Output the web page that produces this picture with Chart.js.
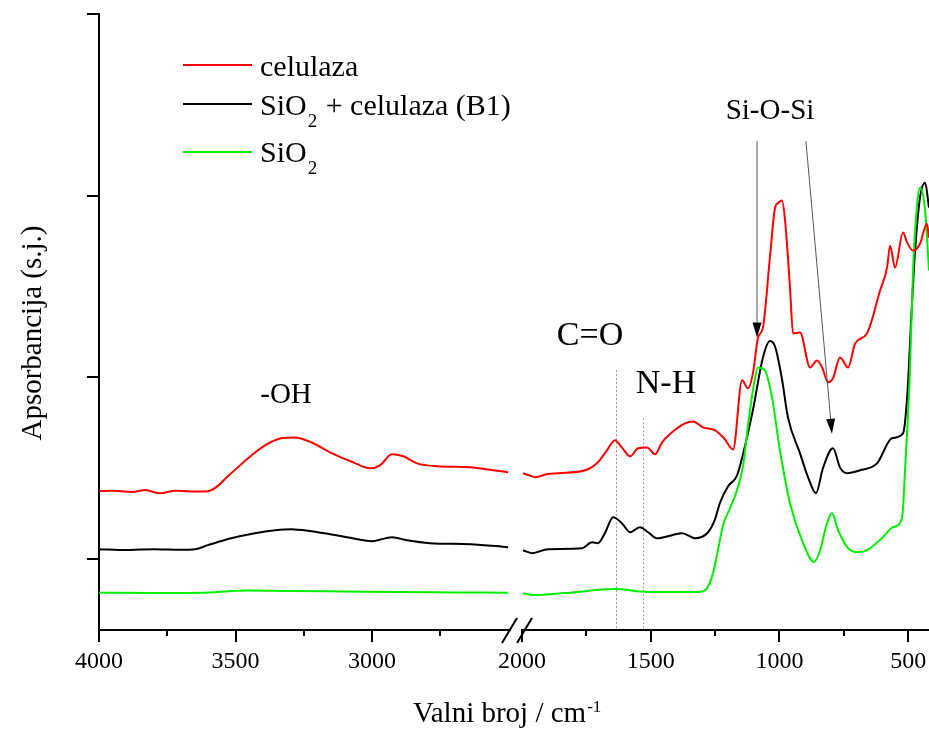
<!DOCTYPE html>
<html><head><meta charset="utf-8">
<script src="https://cdn.jsdelivr.net/npm/chart.js@4.4.0/dist/chart.umd.min.js"></script>
<style>html,body{margin:0;padding:0;background:#fff;overflow:hidden}canvas{display:block}</style>
</head><body>
<canvas id="c" width="929" height="729"></canvas>
<script>
// ---- axis ticks ----
const xTicksLeft = [4000, 3500, 3000];
const xTicksRight = [2000, 1500, 1000, 500];
const xMinorLeft = [3750, 3250, 2750];
const xMinorRight = [1750, 1250, 750];
const yTicks = [0, 1, 2, 3];

// ---- series (wavenumber / absorbance, arbitrary units) ----
const redWn  = [4000,3950,3880,3830,3777,3720,3660,3601,3516,3454,3392,3333,3282,3223,3154,3070,3007,2971,2927,2886,2835,2762,2641,2557,2502,
                1996,1970,1949,1900,1860,1755,1705,1670,1639,1612,1580,1549,1514,1483,1456,1417,1367,1336,1297,1250,1215,1180,1145,1122,1103,1083,1064,1037,1017,1005,990,978,959,947,920,881,854,834,811,792,765,733,706,660,609,582,570,551,520,504,481,454,427,419];
const redAbs = [0.374,0.376,0.370,0.380,0.362,0.377,0.372,0.374,0.473,0.555,0.626,0.665,0.670,0.643,0.588,0.533,0.500,0.516,0.577,0.566,0.527,0.511,0.505,0.489,0.478,
                0.473,0.460,0.451,0.468,0.473,0.489,0.533,0.599,0.654,0.615,0.566,0.610,0.615,0.577,0.643,0.698,0.747,0.758,0.725,0.709,0.665,0.604,0.984,0.940,1.022,1.220,1.275,1.659,1.934,1.960,1.973,1.863,1.495,1.242,1.247,1.055,1.093,1.055,0.973,0.995,1.110,1.055,1.187,1.242,1.478,1.604,1.725,1.604,1.797,1.742,1.698,1.736,1.846,1.769];

const blackWn  = [4000,3900,3800,3700,3648,3601,3516,3429,3355,3297,3223,3154,3092,3000,2927,2872,2788,2641,2502,
                  1996,1961,1899,1767,1728,1705,1678,1646,1612,1580,1542,1510,1476,1417,1378,1328,1277,1250,1231,1200,1165,1141,1103,1064,1037,1017,990,967,920,889,858,831,792,765,737,687,621,563,520,504,485,473,454,434,419];
const blackAbs = [0.055,0.050,0.055,0.052,0.055,0.077,0.115,0.143,0.159,0.165,0.154,0.137,0.121,0.099,0.121,0.104,0.088,0.082,0.066,
                  0.049,0.033,0.055,0.060,0.093,0.088,0.143,0.231,0.198,0.148,0.176,0.148,0.115,0.132,0.143,0.115,0.148,0.220,0.310,0.400,0.460,0.580,0.820,1.110,1.200,1.170,0.990,0.780,0.582,0.451,0.363,0.500,0.610,0.505,0.473,0.489,0.527,0.665,0.692,0.890,1.407,1.698,1.989,2.071,1.934];

const greenWn  = [4000,3800,3600,3454,3300,3100,2900,2700,2502,
                  1996,1949,1833,1639,1510,1316,1281,1258,1239,1219,1192,1165,1141,1122,1103,1083,1056,1029,998,959,908,866,842,815,796,772,737,699,660,598,559,524,512,493,481,465,454,434,419];
const greenAbs = [-0.185,-0.186,-0.183,-0.172,-0.175,-0.178,-0.181,-0.183,-0.185,
                  -0.187,-0.198,-0.187,-0.165,-0.181,-0.181,-0.159,-0.077,0.049,0.187,0.280,0.379,0.516,0.736,0.929,1.055,1.038,0.890,0.599,0.308,0.088,-0.016,0.049,0.198,0.253,0.159,0.066,0.038,0.049,0.121,0.176,0.225,0.489,1.038,1.588,1.956,2.044,1.918,1.588];

// ---- annotation anchors (wavenumber / absorbance) ----
const bandWn = [1635, 1530];
const bandTop = [1.04, 0.775];
const arrowFromWn = [1087, 897];
const arrowFromAbs = [2.30, 2.30];
const arrowToWn = [1087, 796];
const arrowToAbs = [1.22, 0.69];

const RED = '#ff0000', BLACK = '#000000', GREEN = '#00ee00';
const SERIF = '"Liberation Serif", "Times New Roman", serif';

function split(wn, ab, left) {
  const out = [];
  for (let i = 0; i < wn.length; i++) {
    if ((wn[i] > 2300) === left) out.push({x: wn[i], y: ab[i]});
  }
  return out;
}
function mk(label, wn, ab, color, left, order) {
  return {
    label, data: split(wn, ab, left), xAxisID: left ? 'xL' : 'xR', yAxisID: 'y',
    borderColor: color, backgroundColor: color, borderWidth: 2, pointRadius: 0,
    fill: false, cubicInterpolationMode: 'monotone', order
  };
}

function xScale(minV, maxV, weight, tickArr) {
  return {
    type: 'linear', axis: 'x', position: 'bottom', stack: 'wn', stackWeight: weight,
    reverse: true, min: minV, max: maxV, offset: false,
    grid: {drawOnChartArea: false, drawTicks: true, tickLength: 12, color: '#000', lineWidth: 2},
    border: {display: true, color: '#000', width: 2},
    ticks: {font: {family: SERIF, size: 24}, color: '#000', padding: 5, maxRotation: 0, minRotation: 0, autoSkip: false,
            callback: v => String(v)},
    afterBuildTicks: s => { s.ticks = tickArr.map(v => ({value: v})); },
    afterFit: s => { s.height = 99; s.paddingLeft = 0; s.paddingRight = 0; }
  };
}

function text(ctx, str, x, y, size, align) {
  ctx.font = size + 'px ' + SERIF;
  ctx.textAlign = align || 'left';
  ctx.textBaseline = 'alphabetic';
  ctx.fillText(str, x, y);
  return ctx.measureText(str).width;
}

const deco = {
  id: 'deco',
  beforeDatasetsDraw(chart) {
    const ctx = chart.ctx, xR = chart.scales.xR, y = chart.scales.y;
    ctx.save();
    ctx.strokeStyle = '#9a9a9a'; ctx.lineWidth = 1; ctx.setLineDash([2, 2]);
    bandWn.forEach((w, i) => {
      const px = Math.round(xR.getPixelForValue(w)) + 0.5;
      ctx.beginPath(); ctx.moveTo(px, y.getPixelForValue(bandTop[i])); ctx.lineTo(px, y.bottom); ctx.stroke();
    });
    ctx.restore();
  },
  afterDraw(chart) {
    const ctx = chart.ctx, xL = chart.scales.xL, xR = chart.scales.xR, y = chart.scales.y;
    ctx.save();
    // minor ticks
    ctx.strokeStyle = '#000'; ctx.lineWidth = 2;
    const yb = y.bottom;
    [[xL, xMinorLeft], [xR, xMinorRight]].forEach(([s, arr]) => arr.forEach(v => {
      const px = Math.round(s.getPixelForValue(v));
      ctx.beginPath(); ctx.moveTo(px, yb); ctx.lineTo(px, yb + 6); ctx.stroke();
    }));
    // axis break
    const bx = xL.right;
    ctx.fillStyle = '#fff';
    ctx.fillRect(bx - 11, yb - 3, 10, 6);
    ctx.strokeStyle = '#000'; ctx.lineWidth = 2;
    ctx.beginPath(); ctx.moveTo(bx - 20, yb + 13); ctx.lineTo(bx - 5, yb - 12); ctx.stroke();
    ctx.beginPath(); ctx.moveTo(bx - 5, yb + 13); ctx.lineTo(bx + 10, yb - 12); ctx.stroke();
    // arrows
    arrowFromWn.forEach((w, i) => {
      const x0 = xR.getPixelForValue(w), y0 = y.getPixelForValue(arrowFromAbs[i]);
      const x1 = xR.getPixelForValue(arrowToWn[i]), y1 = y.getPixelForValue(arrowToAbs[i]);
      const ang = Math.atan2(y1 - y0, x1 - x0);
      const L = 15, H = 4.5;
      const bxp = x1 - L * Math.cos(ang), byp = y1 - L * Math.sin(ang);
      ctx.strokeStyle = '#555'; ctx.lineWidth = 1;
      ctx.beginPath(); ctx.moveTo(x0, y0); ctx.lineTo(bxp, byp); ctx.stroke();
      ctx.fillStyle = '#000';
      ctx.beginPath();
      ctx.moveTo(x1, y1);
      ctx.lineTo(bxp + H * Math.sin(ang), byp - H * Math.cos(ang));
      ctx.lineTo(bxp - H * Math.sin(ang), byp + H * Math.cos(ang));
      ctx.closePath(); ctx.fill();
    });
    // labels
    ctx.fillStyle = '#000';
    text(ctx, '-OH', 286, 403, 29, 'center');
    text(ctx, 'C=O', 590, 345, 34, 'center');
    text(ctx, 'N-H', 666, 393, 34, 'center');
    text(ctx, 'Si-O-Si', 770, 119, 29, 'center');
    // legend
    const leg = [[RED, 65], [BLACK, 104], [GREEN, 152]];
    leg.forEach(([c, ly]) => {
      ctx.strokeStyle = c; ctx.lineWidth = 2;
      ctx.beginPath(); ctx.moveTo(183, ly); ctx.lineTo(252, ly); ctx.stroke();
    });
    ctx.fillStyle = '#000';
    text(ctx, 'celulaza', 260, 76, 30);
    let w = text(ctx, 'SiO', 260, 115, 30);
    let w2 = text(ctx, '2', 260 + w + 1, 127, 19);
    text(ctx, ' + celulaza (B1)', 260 + w + w2 + 2, 115, 30);
    w = text(ctx, 'SiO', 260, 162, 30);
    text(ctx, '2', 260 + w + 1, 174, 19);
    // axis titles
    w = text(ctx, 'Valni broj / cm', 413, 722, 29);
    text(ctx, '-1', 413 + w + 1, 712, 17);
    ctx.save();
    ctx.translate(41, 333); ctx.rotate(-Math.PI / 2);
    text(ctx, 'Apsorbancija (s.j.)', 0, 0, 29, 'center');
    ctx.restore();
    ctx.restore();
  }
};

new Chart(document.getElementById('c'), {
  type: 'line',
  data: {
    datasets: [
      mk('celulaza', redWn, redAbs, RED, true, 0),
      mk('celulaza', redWn, redAbs, RED, false, 0),
      mk('SiO2', greenWn, greenAbs, GREEN, true, 1),
      mk('SiO2', greenWn, greenAbs, GREEN, false, 1),
      mk('SiO2 + celulaza (B1)', blackWn, blackAbs, BLACK, true, 2),
      mk('SiO2 + celulaza (B1)', blackWn, blackAbs, BLACK, false, 2)
    ]
  },
  options: {
    responsive: false, animation: false, devicePixelRatio: 1, events: [],
    layout: {padding: {top: 14, right: 0, left: 0, bottom: 0}},
    plugins: {legend: {display: false}, tooltip: {enabled: false}, title: {display: false}},
    scales: {
      xL: xScale(2451, 4000, 423, xTicksLeft),
      xR: xScale(419, 2000, 407, xTicksRight),
      y: {
        type: 'linear', position: 'left', min: -0.39, max: 3,
        grid: {drawOnChartArea: false, drawTicks: true, tickLength: 12, color: '#000', lineWidth: 2},
        border: {display: true, color: '#000', width: 2},
        ticks: {display: false},
        afterBuildTicks: s => { s.ticks = yTicks.map(v => ({value: v})); },
        afterFit: s => { s.width = 99; s.paddingTop = 0; s.paddingBottom = 0; }
      }
    }
  },
  plugins: [deco]
});
</script>
</body></html>
